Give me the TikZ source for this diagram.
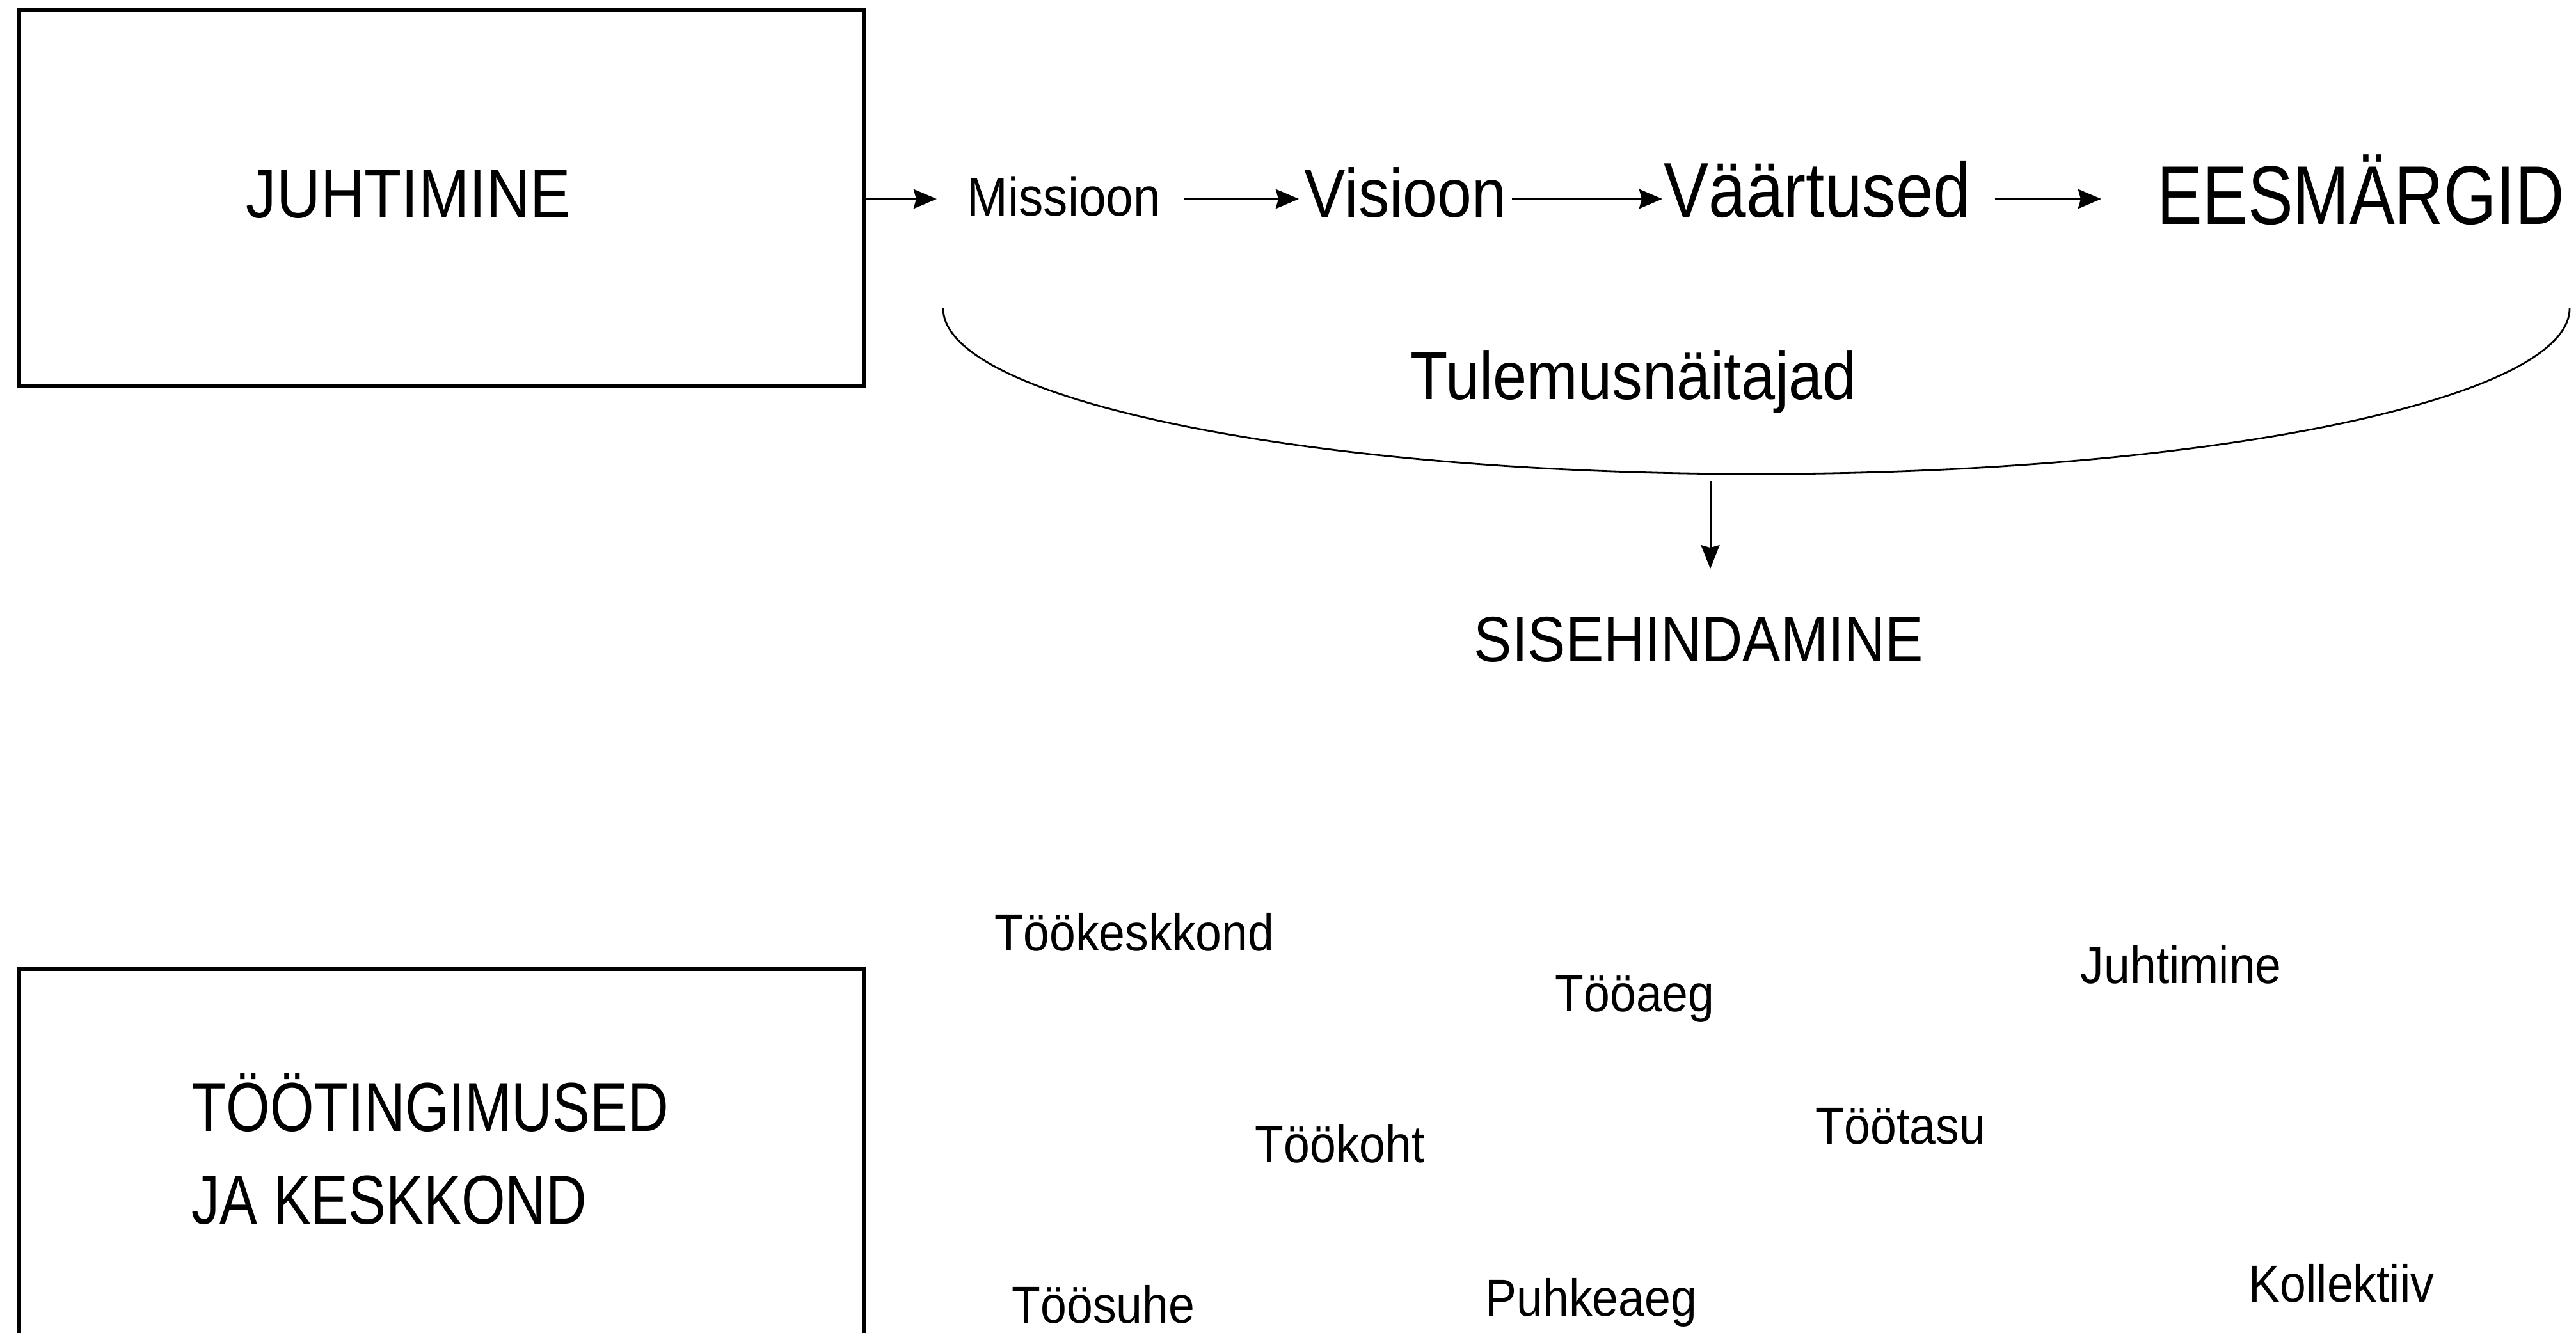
\documentclass[tikz,border=0pt]{standalone}
\usepackage{fontspec}
\setmainfont{Liberation Sans}[FakeStretch=0.9]
\newfontfamily\capsfont{Liberation Sans}[FakeStretch=0.815]
\newfontfamily\capswidefont{Liberation Sans}[FakeStretch=0.885]
\newfontfamily\narrowfont{Liberation Sans}[FakeStretch=0.865]
\usetikzlibrary{arrows.meta}

\tikzset{
  box/.style={draw, line width=1.6pt, minimum width=13.2cm, inner sep=0pt},
  lbl/.style={inner sep=0pt, anchor=base west},
  word/.style={lbl, font=\fontsize{23.2}{28}\selectfont},
  arr/.style={line width=1.4pt, -{Stealth[length=0.36cm, width=0.3cm, inset=0.04cm]}},
  arrthin/.style={line width=0.85pt, -{Stealth[length=0.37cm, width=0.29cm, inset=0.04cm]}},
}

\begin{document}
\begin{tikzpicture}
    \useasboundingbox (0,0) rectangle (40.26,-20.83);
    \fill[white] (0,0) rectangle (40.26,-20.83);
    \clip (0,0) rectangle (40.26,-20.83);
    % Top box
    \node[box, minimum height=5.88cm, anchor=north west] (juht) at (0.27,-0.13) {};
    \node[lbl, font=\capswidefont\fontsize{30.6}{36}\selectfont] (juhtlbl) at (3.84,-3.40) {JUHTIMINE};
    % Chain
    \coordinate (rida) at (0,-3.11);
    \node[lbl, font=\fontsize{24.2}{29}\selectfont] (miss) at (15.11,-3.37) {Missioon};
    \node[lbl, font=\fontsize{30.6}{36}\selectfont] (vis) at (20.38,-3.39) {Visioon};
    \node[lbl, font=\narrowfont\fontsize{34.6}{41}\selectfont] (vaar) at (26.00,-3.39) {Väärtused};
    \node[lbl, font=\capsfont\fontsize{37}{44}\selectfont] (eesm) at (33.71,-3.50) {EESMÄRGID};
    \draw[arr, shorten >=0.47cm] (juht.east |- rida) -- (miss.west |- rida);
    \draw[arr, shorten <=0.36cm, shorten >=0.08cm] (miss.east |- rida) -- (vis.west |- rida);
    \draw[arr, shorten <=0.08cm, shorten >=0.02cm] (vis.east |- rida) -- (vaar.west |- rida);
    \draw[arr, shorten <=0.37cm, shorten >=0.87cm] (vaar.east |- rida) -- (eesm.west |- rida);
    % Curve and results
    \draw[line width=0.8pt] (14.74,-4.82) arc[start angle=180, end angle=360, x radius=12.71cm, y radius=2.59cm];
    \node[lbl, font=\fontsize{30.2}{36}\selectfont] (tulem) at (22.04,-6.24) {Tulemusnäitajad};
    \coordinate (pohi) at (26.73,-7.52);
    \node[lbl, font=\capswidefont\fontsize{28.6}{34}\selectfont] (sise) at (23.03,-10.34) {SISEHINDAMINE};
    \draw[arrthin, shorten >=0.74cm] (pohi) -- (pohi |- sise.north);
    % Bottom box
    \node[box, minimum height=8cm, anchor=north west] (ting) at (0.27,-15.12) {};
    \node[lbl, font=\capsfont\fontsize{30.8}{36}\selectfont] (tinglbl) at (2.99,-17.68) {TÖÖTINGIMUSED};
    \node[lbl, font=\capsfont\fontsize{30.8}{36}\selectfont] (keskklbl) at (2.99,-19.13) {JA KESKKOND};
    % Words
    \node[word] (tookeskkond) at (15.54,-14.86) {Töökeskkond};
    \node[word] (tooaeg) at (24.30,-15.81) {Tööaeg};
    \node[word] (juhtimine) at (32.51,-15.37) {Juhtimine};
    \node[word] (tookoht) at (19.61,-18.17) {Töökoht};
    \node[word] (tootasu) at (28.37,-17.88) {Töötasu};
    \node[word] (toosuhe) at (15.81,-20.68) {Töösuhe};
    \node[word] (puhkeaeg) at (23.21,-20.57) {Puhkeaeg};
    \node[word] (kollektiiv) at (35.14,-20.35) {Kollektiiv};
\end{tikzpicture}
\end{document}
